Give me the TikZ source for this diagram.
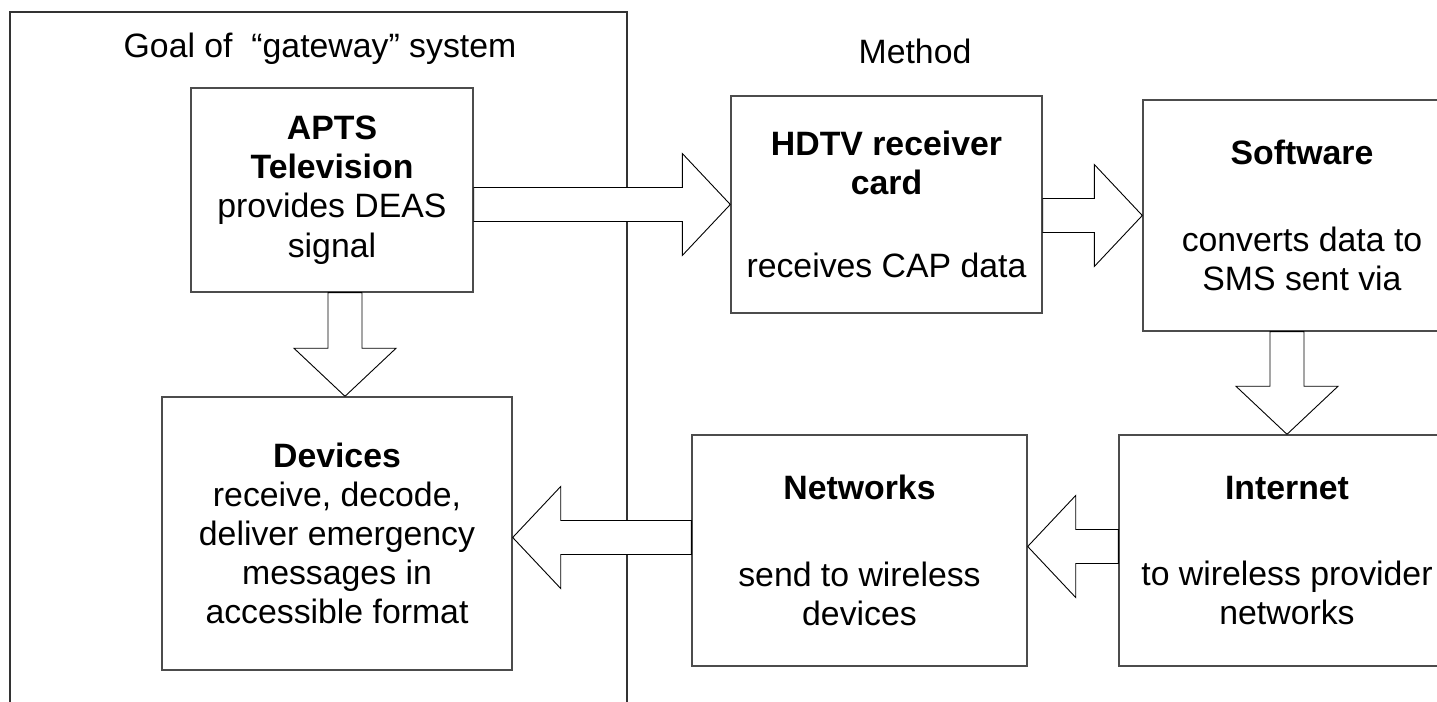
\documentclass[tikz,border=0pt]{standalone}
\usepackage{fontspec}
\setmainfont{Liberation Sans}
\usetikzlibrary{calc}

\tikzset{
  box/.style={draw=black!70, line width=0.7pt, fill=white, align=center, inner sep=0pt,
    font=\fontsize{16.9pt}{19.6pt}\selectfont},
  frame/.style={draw=black!80, line width=0.7pt},
  fatarrow/.style={draw=black, fill=white, line width=0.45pt,
    to path={
      ($(\tikztotarget)!24pt!(\tikztostart)$) coordinate (hb)
      ($(\tikztostart)!8.5pt!90:(\tikztotarget)$) --
      ($(hb)!8.5pt!90:(\tikztotarget)$) --
      ($(hb)!25.5pt!90:(\tikztotarget)$) --
      (\tikztotarget) --
      ($(hb)!25.5pt!-90:(\tikztotarget)$) --
      ($(hb)!8.5pt!-90:(\tikztotarget)$) --
      ($(\tikztostart)!8.5pt!-90:(\tikztotarget)$) -- cycle}}
}

\begin{document}
\begin{tikzpicture}[x=0.5pt,y=0.5pt]
      \path[use as bounding box, clip] (0,0) rectangle (1437,702);

      % goal / method split
      \draw[frame] (10,-10) -- (10,690) -- (627,690) -- (627,-10);
      \node[font=\fontsize{16.9pt}{19.6pt}\selectfont] (goal) at (320,653) {Goal of\ \ “gateway” system};
      \node[font=\fontsize{16.9pt}{19.6pt}\selectfont] (method) at (915,651) {Method};

      \node[box, minimum width=141pt, minimum height=102pt] (apts) at (332,512)
        {\textbf{APTS}\\\textbf{Television}\\provides DEAS\\signal};
      \node[box, minimum width=155.5pt, minimum height=108.5pt] (hdtv) at (886.5,497.5)
        {\textbf{HDTV receiver}\\\textbf{card}\\[22pt]receives CAP data};
      \node[box, minimum width=159pt, minimum height=115.5pt] (soft) at (1302,486.5)
        {\textbf{Software}\\[23.5pt]converts data to\\SMS sent via};
      \node[box, minimum width=175pt, minimum height=136.5pt] (devices) at (337,168.5)
        {\textbf{Devices}\\receive, decode,\\deliver emergency\\messages in\\accessible format};
      \node[box, minimum width=167.5pt, minimum height=115.5pt] (networks) at (859.5,151.5)
        {\textbf{Networks}\\[23.5pt]send to wireless\\devices};
      \node[box, minimum width=168pt, minimum height=115.5pt] (internet) at (1287,151.5)
        {\textbf{Internet}\\[23.5pt]to wireless provider\\networks};

      % block arrows
      \coordinate (a1) at (apts.east |- hdtv.west);
      \coordinate (a2) at (hdtv.east |- soft.west);
      \coordinate (din) at ([xshift=4pt]devices.north);
      \coordinate (a3) at (apts.south -| din);
      \coordinate (a4) at (soft.south -| internet.north);
      \coordinate (nin) at ([yshift=2pt]networks.east);
      \coordinate (a5) at (internet.west |- nin);
      \coordinate (dside) at ([yshift=-2pt]devices.east);
      \coordinate (a6) at (networks.west |- dside);

      \draw[fatarrow] (a1) to (hdtv.west);
      \draw[fatarrow] (a2) to (soft.west);
      \draw[fatarrow] (a3) to (din);
      \draw[fatarrow] (a4) to (internet.north);
      \draw[fatarrow] (a5) to (nin);
      \draw[fatarrow] (a6) to (dside);
\end{tikzpicture}
\end{document}
